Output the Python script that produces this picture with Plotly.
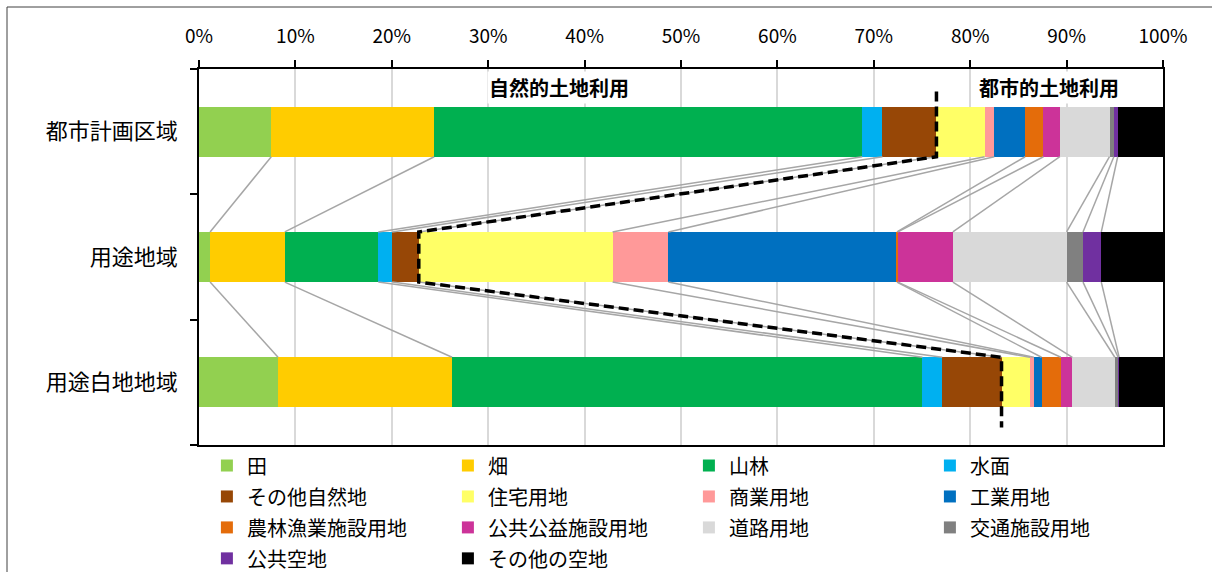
import itertools
import plotly.graph_objects as go

areas = ['都市計画区域', '用途地域', '用途白地地域']
uses = ['田', '畑', '山林', '水面', 'その他自然地', '住宅用地', '商業用地', '工業用地',
        '農林漁業施設用地', '公共公益施設用地', '道路用地', '交通施設用地', '公共空地', 'その他の空地']
colors = ['#92D050', '#FFCC00', '#00B050', '#00B0F0', '#974706', '#FFFF66', '#FF9999', '#0070C0',
          '#E46C0A', '#CC3399', '#D9D9D9', '#808080', '#7030A0', '#000000']

# share (%) of each land use
toshi_keikaku = [7.5, 16.9, 44.4, 2.1, 5.6, 5.0, 1.0, 3.2, 1.9, 1.7, 5.15, 0.45, 0.4, 4.7]
yoto_chiiki   = [1.15, 7.75, 9.7, 1.45, 2.75, 20.1, 5.8, 23.7, 0.1, 5.7, 11.8, 1.7, 1.9, 6.4]
yoto_shirochi = [8.2, 18.05, 48.8, 2.05, 6.15, 2.95, 0.4, 0.8, 2.0, 1.2, 4.4, 0.35, 0.1, 4.55]

series = [toshi_keikaku, yoto_chiiki, yoto_shirochi]
x_ticks = list(range(0, 101, 10))

FONT = 'Noto Sans CJK JP'
BAR_W = 0.4
half = BAR_W / 2
pos = list(range(len(areas)))

fig = go.Figure()

for j, (name_, c) in enumerate(zip(uses, colors)):
    fig.add_trace(
        go.Bar(
            y = pos,
            x = [s[j] for s in series],
            orientation = 'h',
            name = '<span style="font-size:20px">' + name_ + '</span>',
            marker = dict(color = c, line = dict(width = 0)),
            width = BAR_W,
            customdata = areas,
            hovertemplate = '%{customdata} ' + name_ + ': %{x}%<extra></extra>',
        )
    )

# series lines between neighbouring bars
cums = [list(itertools.accumulate(s)) for s in series]
lx, ly = [], []
for i in range(len(series) - 1):
    for k in range(len(uses) - 1):
        lx += [cums[i][k], cums[i + 1][k], None]
        ly += [pos[i] + half, pos[i + 1] - half, None]
fig.add_trace(
    go.Scatter(
        x = lx, y = ly, mode = 'lines',
        line = dict(color = '#A6A6A6', width = 1.5),
        showlegend = False, hoverinfo = 'skip',
    )
)

# dashed border natural / urban
k = uses.index('その他自然地')
dx, dy = [], []
for i in pos:
    dx += [cums[i][k], cums[i][k]]
    dy += [pos[i] - half, pos[i] + half]
dy[0] = pos[0] - 0.32
dy[-1] = pos[-1] + 0.36
fig.add_trace(
    go.Scatter(
        x = dx, y = dy, mode = 'lines',
        line = dict(color = 'black', width = 3.5, dash = '10px,5px'),
        showlegend = False, hoverinfo = 'skip',
    )
)

for txt, xpos in [('自然的土地利用', 37.3), ('都市的土地利用', 88.2)]:
    fig.add_annotation(
        x = xpos, y = -0.35, xref = 'x', yref = 'y',
        text = '<b>' + txt + '</b>', showarrow = False,
        font = dict(size = 20, color = 'black', family = FONT),
        bgcolor = 'white', borderpad = 1,
    )

W, H = 1212, 572
L, R, T, B = 199, 49, 69, 127
pw, ph = W - L - R, H - T - B
# outer chart frame
fig.add_shape(
    type = 'rect', xref = 'paper', yref = 'paper',
    x0 = (7 - L) / pw, x1 = (W + 10 - L) / pw,
    y0 = -(B + 10) / ph, y1 = (H - 7 - B) / ph,
    line = dict(color = '#404040', width = 1),
    fillcolor = 'rgba(0,0,0,0)', opacity = 1, layer = 'below',
)

fig.update_layout(
    width = W,
    height = H,
    barmode = 'stack',
    template = 'simple_white',
    plot_bgcolor = 'white',
    paper_bgcolor = 'white',
    margin = dict(l = L, r = R, t = T, b = B, pad = 0, autoexpand = False),
    font = dict(family = FONT, color = 'black', size = 19),
    xaxis = dict(
        side = 'top',
        range = [0, 100],
        tickvals = x_ticks,
        ticktext = [str(v) + '%' for v in x_ticks],
        ticks = 'outside', ticklen = 7, tickwidth = 1.5, tickcolor = 'black',
        showline = True, linecolor = 'black', linewidth = 1.5, mirror = True,
        showgrid = True, gridcolor = '#D9D9D9', gridwidth = 1.5,
        ticklabelstandoff = 10,
        tickfont = dict(family = FONT, size = 19),
        zeroline = False,
    ),
    yaxis = dict(
        range = [pos[-1] + 0.5, pos[0] - 0.5],
        tickvals = pos,
        ticktext = areas,
        ticks = '',
        minor = dict(
            tickvals = [p - 0.5 for p in pos] + [pos[-1] + 0.5],
            ticks = 'outside', ticklen = 7, tickwidth = 1.5, tickcolor = 'black',
            showgrid = False,
        ),
        showline = True, linecolor = 'black', linewidth = 1.5, mirror = True,
        showgrid = False, zeroline = False,
        ticklabelstandoff = 15,
        tickfont = dict(family = FONT, size = 22),
    ),
    legend = dict(
        orientation = 'h',
        x = -0.0001, xanchor = 'left',
        y = -0.0001, yanchor = 'top',
        indentation = 8,
        entrywidth = 188, entrywidthmode = 'pixels',
        font = dict(family = FONT, size = 21.5, color = 'black'),
        traceorder = 'normal',
        itemclick = False,
        bgcolor = 'rgba(0,0,0,0)',
    ),
    showlegend = True,
)

fig.write_html(
    'out.html',
    config = dict(displayModeBar = False),
    post_script = "document.body.style.margin = '0';",
)
